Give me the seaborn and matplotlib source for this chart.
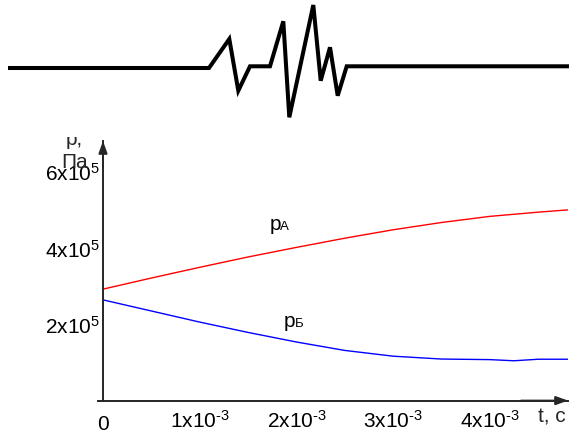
import matplotlib
matplotlib.use("Agg")
import matplotlib.pyplot as plt
import matplotlib.transforms as mtransforms
import seaborn as sns
import numpy as np
import pandas as pd

# ---------------- data ----------------
# top seismic-like waveform (pixel-like units of the illustration)
wave_x = [8, 209, 229.3, 238.3, 250, 270, 283.3, 289.3, 313.3, 320.7, 330, 337.7, 346.7, 569]
wave_y = [69, 69, 40, 91.7, 67.3, 67.3, 22.3, 118.3, 6, 81.7, 48.3, 96.7, 67.3, 67.3]

# pressure curves
t_A = [0, 0.5e-3, 1.0e-3, 1.5e-3, 2.0e-3, 2.5e-3, 3.0e-3, 3.5e-3, 4.0e-3, 4.5e-3, 4.81e-3]
p_A = [2.91e5, 3.20e5, 3.48e5, 3.75e5, 4.00e5, 4.24e5, 4.46e5, 4.65e5, 4.81e5, 4.92e5, 4.98e5]

t_B = [0, 0.5e-3, 1.0e-3, 1.5e-3, 2.0e-3, 2.5e-3, 3.0e-3, 3.5e-3, 4.0e-3, 4.25e-3, 4.5e-3, 4.81e-3]
p_B = [2.63e5, 2.34e5, 2.05e5, 1.78e5, 1.53e5, 1.31e5, 1.16e5, 1.085e5, 1.07e5, 1.04e5, 1.08e5, 1.08e5]

x_ticks = [0, 1e-3, 2e-3, 3e-3, 4e-3]
x_ticklabels = ["0", r"$\mathdefault{1x10^{\text{-}3}}$", r"$\mathdefault{2x10^{\text{-}3}}$",
                r"$\mathdefault{3x10^{\text{-}3}}$", r"$\mathdefault{4x10^{\text{-}3}}$"]
y_ticks = [2e5, 4e5, 6e5]
y_ticklabels = [r"$\mathdefault{2x10^{5}}$", r"$\mathdefault{4x10^{5}}$", r"$\mathdefault{6x10^{5}}$"]

label_A = ("p", "А")
label_B = ("p", "Б")
x_label = "t, c"
y_label_1 = "p,"
y_label_2 = "Па"

# ---------------- style ----------------
sns.set_style("white")
plt.rcParams["font.family"] = ["Liberation Sans", "DejaVu Sans"]
plt.rcParams["mathtext.fontset"] = "custom"
plt.rcParams["mathtext.rm"] = "Liberation Sans"
FS = 15
AX_COL = "#262626"

W, H = 569, 439
fig = plt.figure(figsize=(W / 100, H / 100), dpi=100)
fig.patch.set_facecolor("white")

# ---------------- main axes ----------------
px_per_t = 96.7 / 1e-3
px_per_p = 38.3 / 1e5
left_px, right_px, bottom_px, top_px = 98, 568, 401.6, 142
ax = fig.add_axes([left_px / W, (H - bottom_px) / H,
                   (right_px - left_px) / W, (bottom_px - top_px) / H])
ax.set_facecolor("none")

sns.lineplot(x=t_A, y=p_A, color="#ff0000", lw=1.0, estimator=None, ax=ax)
sns.lineplot(x=t_B, y=p_B, color="#0000ff", lw=1.0, estimator=None, ax=ax)

ax.set_xlim(-5 / px_per_t, (right_px - 103) / px_per_t)
ax.set_ylim(0, (bottom_px - top_px) / px_per_p)

for s in ["top", "right"]:
    ax.spines[s].set_visible(False)
ax.spines["left"].set_position(("data", 0))
for s in ["left", "bottom"]:
    ax.spines[s].set_color(AX_COL)
    ax.spines[s].set_linewidth(1.4)

ax.set_xticks(x_ticks)
ax.set_xticklabels(x_ticklabels)
ax.set_yticks(y_ticks)
ax.set_yticklabels(y_ticklabels)
ax.tick_params(axis="x", direction="inout", length=6, width=1, color=AX_COL,
               labelsize=FS, pad=3, labelcolor="black")
ax.tick_params(axis="y", direction="inout", length=4.5, width=1, color=AX_COL,
               labelsize=FS, pad=0, labelcolor="black")
ax.set_xlabel("")
ax.set_ylabel("")

# the "0" label sits a little lower in the reference
zero_lbl = ax.get_xticklabels()[0]
zero_lbl.set_transform(zero_lbl.get_transform() +
                       mtransforms.ScaledTranslation(0, -5 / 100, fig.dpi_scale_trans))

# axis arrows
arrow = dict(arrowstyle="-|>,head_length=0.72,head_width=0.26", color=AX_COL,
             lw=1.4, shrinkA=0, shrinkB=0, mutation_scale=10)
ax.annotate("", xy=(1, 0), xytext=(0.9, 0), xycoords="axes fraction",
            textcoords="axes fraction", arrowprops=arrow, annotation_clip=False)
ax.annotate("", xy=(0, 1), xytext=(0, 0.9), xycoords=("data", "axes fraction"),
            textcoords=("data", "axes fraction"), arrowprops=arrow, annotation_clip=False)

# curve labels
def curve_label(tx, py, pair):
    ax.text(tx, py, pair[0], fontsize=FS, va="baseline", ha="left", color="black")
    ax.annotate(pair[1], xy=(tx, py), xytext=(7.6, 0), textcoords="offset points",
                fontsize=9.5, va="baseline", ha="left", color="black")

curve_label((269.5 - 103) / px_per_t, (bottom_px - 230.5) / px_per_p, label_A)
curve_label((284 - 103) / px_per_t, (bottom_px - 327) / px_per_p, label_B)

# axis titles
fig.text(538 / W, 1 - 423 / H, x_label, fontsize=FS, va="baseline", ha="left")
fig.text(66 / W, 1 - 145 / H, y_label_1, fontsize=FS, va="baseline", ha="left")
fig.text(61.5 / W, 1 - 168 / H, y_label_2, fontsize=FS, va="baseline", ha="left")

# ---------------- top waveform ----------------
top_h = 138
ax2 = fig.add_axes([0, 1 - top_h / H, 1, top_h / H])
ax2.set_zorder(5)
ax2.patch.set_facecolor("white")
sns.lineplot(x=wave_x, y=wave_y, color="black", lw=2.9, estimator=None, ax=ax2,
             solid_joinstyle="miter", solid_capstyle="butt")
ax2.set_xlim(0, W)
ax2.set_ylim(top_h, 0)
ax2.set_xticks([])
ax2.set_yticks([])
ax2.set_xlabel("")
ax2.set_ylabel("")
for s in ax2.spines.values():
    s.set_visible(False)

fig.savefig("out.png", dpi=100, facecolor="white")
